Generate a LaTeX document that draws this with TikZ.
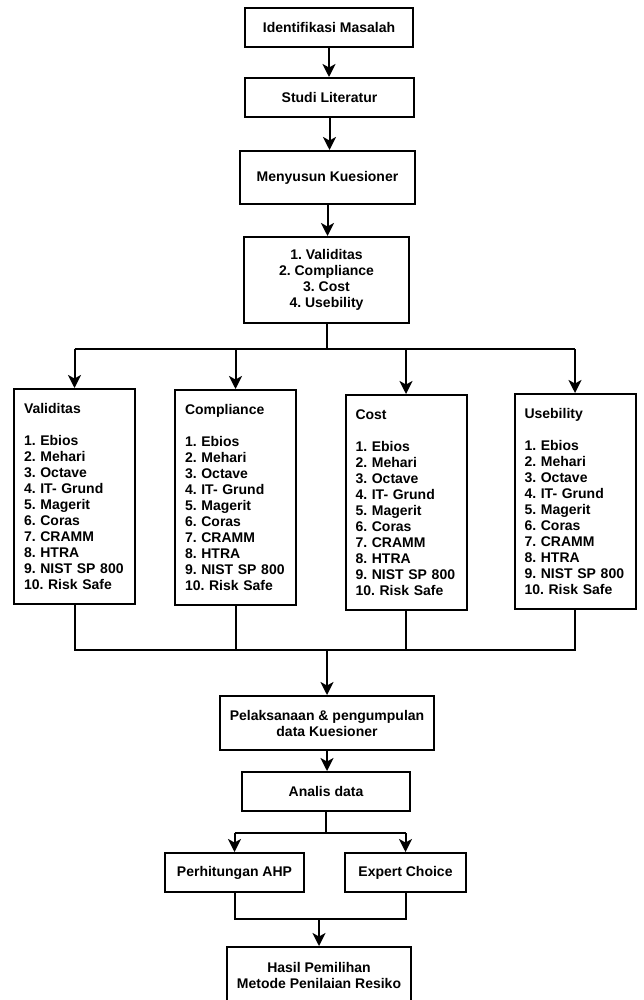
\documentclass[tikz,border=0pt]{standalone}
\usepackage{fontspec}
\setmainfont{Liberation Sans}
\usetikzlibrary{calc,arrows.meta}
\frenchspacing

\begin{document}
\begin{tikzpicture}[x=1pt, y=-1pt, >={Stealth[length=13pt, width=13pt, inset=3.5pt]},
    box/.style={draw, line width=2pt, align=center, inner sep=0pt,
        font=\bfseries\fontsize{14}{16}\selectfont},
    listbox/.style={box, align=left, inner xsep=10pt, text width=101pt, minimum height=215pt},
    link/.style={line width=2pt}]
        \useasboundingbox (0,0) rectangle (643,1000);

        % Main steps
        \node[box, minimum width=168pt, minimum height=39pt] (identifikasi) at (329, 27.5) {Identifikasi Masalah};
        \node[box, minimum width=169pt, minimum height=39pt] (studi) at (329.5, 97.5) {Studi Literatur};
        \node[box, minimum width=175pt, minimum height=53pt] (kuesioner) at (327.5, 177.5) {Menyusun Kuesioner};
        \node[box, minimum width=165pt, minimum height=86pt] (kriteria) at (326.5, 280)
            {1. Validitas\\2. Compliance\\3. Cost\\4. Usebility};

        % Methods per criterion
        \def\metode{1. Ebios\\2. Mehari\\3. Octave\\4. IT- Grund\\5. Magerit\\6. Coras\\7. CRAMM\\8. HTRA\\9. NIST SP 800\\10. Risk Safe}
        \node[listbox] (validitas) at (74.5, 496.5) {Validitas\\[16pt]\metode};
        \node[listbox] (compliance) at (235.5, 497.5) {Compliance\\[16pt]\metode};
        \node[listbox] (cost) at (406, 502.5) {Cost\\[16pt]\metode};
        \node[listbox] (usebility) at (575, 501.5) {Usebility\\[16pt]\metode};

        % Data collection and analysis
        \node[box, minimum width=214pt, minimum height=54pt] (pelaksanaan) at (327, 723)
            {Pelaksanaan \& pengumpulan\\data Kuesioner};
        \node[box, minimum width=168pt, minimum height=39pt] (analisis) at (326, 791.5) {Analis data};
        \node[box, minimum width=139pt, minimum height=39pt] (ahp) at (234.5, 872.5) {Perhitungan AHP};
        \node[box, minimum width=121pt, minimum height=39pt] (expert) at (405.5, 872.5) {Expert Choice};
        \node[box, minimum width=184pt, minimum height=56pt] (hasil) at (319, 975)
            {Hasil Pemilihan\\Metode Penilaian Resiko};

        % Arrows between main steps
        \draw[link, ->] (identifikasi.south) -- (identifikasi.south |- studi.north);
        \draw[link, ->] (studi.south) -- (studi.south |- kuesioner.north);
        \draw[link, ->] (kuesioner.south) -- (kuesioner.south |- kriteria.north);

        % Branch to criteria
        \coordinate (branch) at ($(kriteria.south) + (0, 25)$);
        \draw[link] (kriteria.south) -- (branch);
        \draw[link] (validitas.north |- branch) -- (usebility.north |- branch);
        \draw[link, ->] (validitas.north |- branch) -- (validitas.north);
        \draw[link, ->] (compliance.north |- branch) -- (compliance.north);
        \draw[link, ->] (cost.north |- branch) -- (cost.north);
        \draw[link, ->] (usebility.north |- branch) -- (usebility.north);

        % Merge back
        \coordinate (merge) at (pelaksanaan.north |- 0, 650);
        \draw[link] (validitas.south) -- (validitas.south |- merge) -- (usebility.south |- merge) -- (usebility.south);
        \draw[link] (compliance.south) -- (compliance.south |- merge);
        \draw[link] (cost.south) -- (cost.south |- merge);
        \draw[link, ->] (merge) -- (pelaksanaan.north);
        \draw[link, ->] (pelaksanaan.south) -- (pelaksanaan.south |- analisis.north);

        % Split to AHP and Expert Choice
        \coordinate (split) at ($(analisis.south) + (0, 21)$);
        \draw[link] (analisis.south) -- (split);
        \draw[link] (ahp.north |- split) -- (expert.north |- split);
        \draw[link, ->] (ahp.north |- split) -- (ahp.north);
        \draw[link, ->] (expert.north |- split) -- (expert.north);

        % Join to result
        \coordinate (join) at (hasil.north |- 0, 919);
        \draw[link] (ahp.south) -- (ahp.south |- join) -- (expert.south |- join) -- (expert.south);
        \draw[link, ->] (join) -- (hasil.north);
    \end{tikzpicture}
\end{document}
